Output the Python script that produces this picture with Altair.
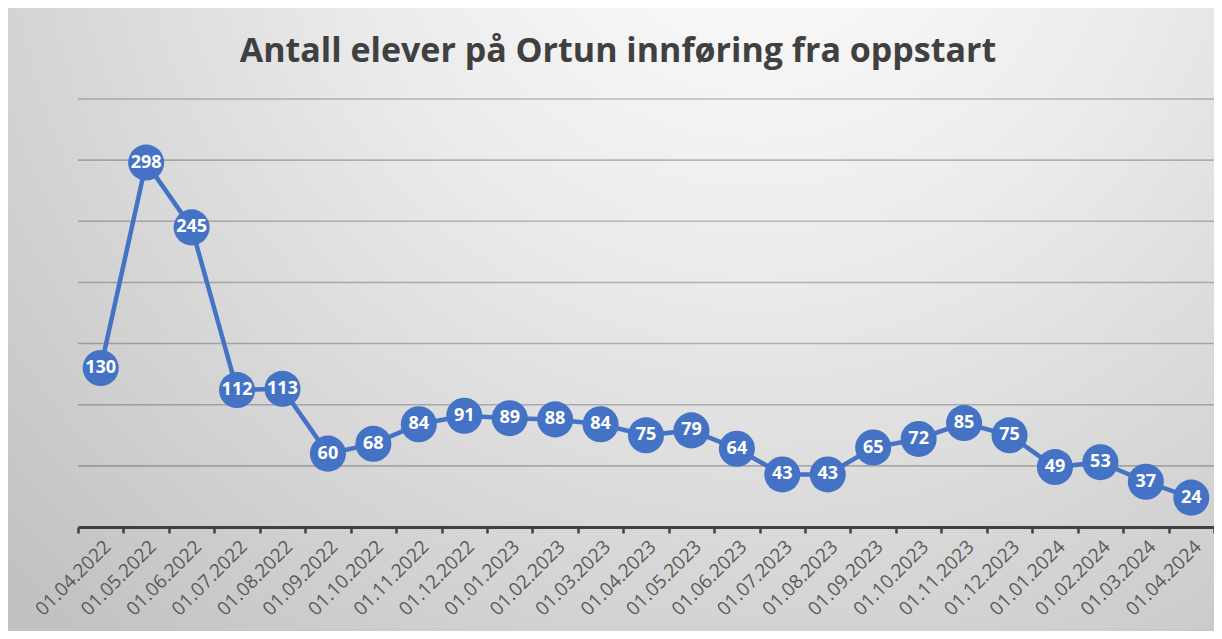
import altair as alt
import pandas as pd

dates = [
    "01.04.2022", "01.05.2022", "01.06.2022", "01.07.2022", "01.08.2022",
    "01.09.2022", "01.10.2022", "01.11.2022", "01.12.2022", "01.01.2023",
    "01.02.2023", "01.03.2023", "01.04.2023", "01.05.2023", "01.06.2023",
    "01.07.2023", "01.08.2023", "01.09.2023", "01.10.2023", "01.11.2023",
    "01.12.2023", "01.01.2024", "01.02.2024", "01.03.2024", "01.04.2024",
]
students = [130, 298, 245, 112, 113, 60, 68, 84, 91, 89, 88, 84, 75, 79, 64,
            43, 43, 65, 72, 85, 75, 49, 53, 37, 24]
grid_values = [50, 100, 150, 200, 250, 300, 350]

TITLE = "Antall elever på Ortun innføring fra oppstart"
FONT = "Open Sans, sans-serif"
BLUE = "#4472C4"

df = pd.DataFrame({"dato": dates, "elever": students})
grid_df = pd.DataFrame({"g": grid_values})
one_df = pd.DataFrame({"b": [0]})

W, H = 1136, 428
PL, PT, PR, PB = 70, 91, 0, 104

xscale = alt.Scale(type="band", paddingInner=0, paddingOuter=0, domain=dates)
yscale = alt.Scale(domain=[0, 350], nice=False, zero=True)

bg = alt.Chart(one_df).mark_rect(
    color=alt.Gradient(
        gradient="radial",
        stops=[
            alt.GradientStop(offset=0, color="#ffffff"),
            alt.GradientStop(offset=0.4, color="#ebebeb"),
            alt.GradientStop(offset=1, color="#c2c2c2"),
        ],
        x1=0.62, y1=0.12, r1=0, x2=0.62, y2=0.12, r2=0.85,
    )
).encode(
    x=alt.value(-PL), x2=alt.value(W + PR),
    y=alt.value(-PT), y2=alt.value(H + PB),
)

title = alt.Chart(one_df).mark_text(
    text=TITLE, font=FONT, fontSize=34, fontWeight="bold", color="#404040",
    align="center", baseline="alphabetic",
).encode(x=alt.value(W / 2 - 28), y=alt.value(-37))

grid = alt.Chart(grid_df).mark_rule(
    color="#000000", strokeOpacity=0.24, strokeWidth=1.6
).encode(
    y=alt.Y("g:Q", scale=yscale, axis=None),
    x=alt.value(0), x2=alt.value(W),
)

xenc = alt.X(
    "dato:N", scale=xscale, sort=dates,
    axis=alt.Axis(
        title=None, labelAngle=-45, labelFontSize=19, labelColor="#595959",
        labelFont=FONT, domainColor="#404040", domainWidth=3,
        tickColor="#404040", tickWidth=2.5, tickSize=6, tickBand="extent",
        grid=False, labelPadding=4, zindex=1,
    ),
)
yenc = alt.Y("elever:Q", scale=yscale, axis=None)

line = alt.Chart(df).mark_line(color=BLUE, strokeWidth=4.5).encode(x=xenc, y=yenc)
points = alt.Chart(df).mark_circle(size=1300, color=BLUE, opacity=1).encode(x=xenc, y=yenc)
labels = alt.Chart(df).mark_text(
    color="white", fontWeight="bold", fontSize=18, font=FONT, baseline="middle"
).encode(x=xenc, y=yenc, text="elever:Q")

chart = alt.layer(bg, title, grid, line, points, labels).properties(
    width=W, height=H,
    padding={"left": PL, "top": PT, "right": PR, "bottom": PB},
    autosize=alt.AutoSizeParams(type="none"),
).configure_view(stroke=None)

chart.save("out.html", embed_options={"renderer": "svg", "actions": False})
